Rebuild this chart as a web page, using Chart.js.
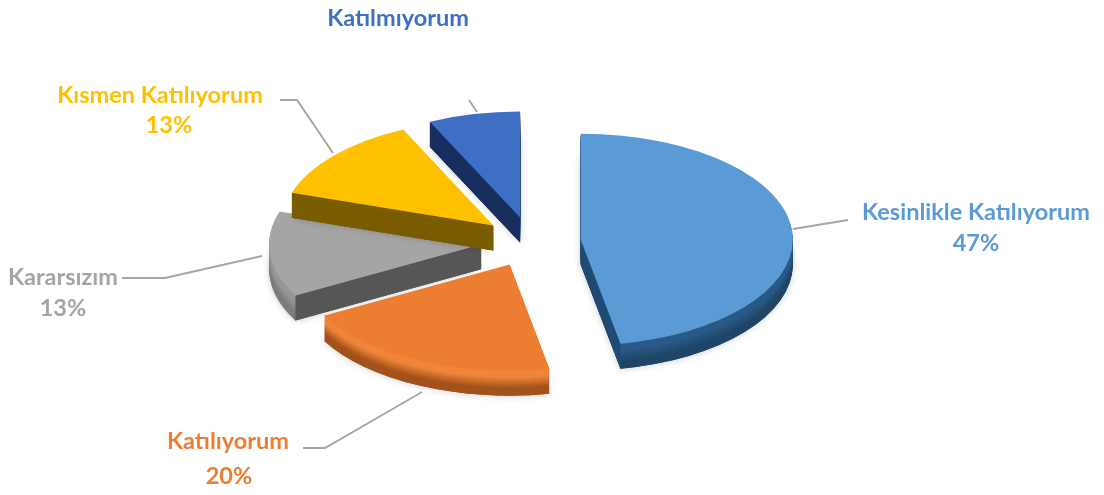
<!DOCTYPE html>
<html lang="tr">
<head>
<meta charset="utf-8">
<title>Katılım</title>
<script src="https://cdn.jsdelivr.net/npm/chart.js@4"></script>
<style>
  html, body { margin: 0; padding: 0; background: #fff; }
  canvas { display: block; }
</style>
</head>
<body>
<canvas id="pieChart" width="1104" height="495"></canvas>
<script>
// --- Chart data ---
const categories = ['Kesinlikle Katılıyorum', 'Katılıyorum', 'Kararsızım', 'Kısmen Katılıyorum', 'Katılmıyorum'];
const values = [47, 20, 13, 13, 7];
const percentShown = [true, true, true, true, false];

// --- Styles ---
const faceColors = ['#5b9bd5', '#ed7d31', '#a5a5a5', '#ffc000', '#3f6fc4'];
const wallColors = ['#1f4a75', '#a85a20', '#565656', '#7a5c00', '#172f5f'];
const rimLight = ['#2a5a88', '#f0853a', '#979797', '#a07800', '#172f5f'];
const rimDark = ['#1f4668', '#a2531c', '#7c7c7c', '#7a5c00', '#172f5f'];
const textColors = ['#5b9bd5', '#ed7d31', '#a5a5a5', '#ffc000', '#3f6fc4'];
const drawOrder = [4, 2, 3, 1, 0];

const TILT = 0.5;      // vertical squash of the pie
const DEPTH = 25;      // thickness of the slices, px on screen

// Label anchors and leader lines, in canvas px
const labelLayout = [
    { x: 976, y: 212, gap: 31, dx: 0, line: [[793, 229], [848, 220]] },
    { x: 228, y: 441, gap: 35, dx: 1, line: [[422, 392], [325, 448], [303, 448]] },
    { x: 63, y: 277, gap: 31, dx: 0, line: [[262, 256], [165, 278], [122, 278]] },
    { x: 160, y: 95, gap: 30, dx: 9, line: [[333, 153], [297, 100], [280, 100]] },
    { x: 398, y: 18, gap: 0, dx: 0, line: [[477, 112], [469, 100]] }
];

function mixColor(a, b, t) {
    const pa = parseInt(a.slice(1), 16);
    const pb = parseInt(b.slice(1), 16);
    const ch = shift => Math.round(((pa >> shift) & 255) * (1 - t) + ((pb >> shift) & 255) * t);
    return `rgb(${ch(16)},${ch(8)},${ch(0)})`;
}

// Draws one exploded slice from the geometry of its Chart.js arc element
function drawSlice(ctx, arc, index) {
    const { x, y, startAngle, endAngle, outerRadius } = arc.getProps(['x', 'y', 'startAngle', 'endAngle', 'outerRadius'], true);
    const mid = (startAngle + endAngle) / 2;
    const tipX = x + Math.cos(mid) * arc.options.offset;
    const tipY = y + Math.sin(mid) * arc.options.offset;

    const withTilt = (dy, paint) => {
        ctx.save();
        ctx.translate(0, y + dy);
        ctx.scale(1, TILT);
        ctx.translate(0, -y);
        ctx.beginPath();
        paint();
        ctx.restore();
    };
    const sector = () => {
        ctx.moveTo(tipX, tipY);
        ctx.arc(tipX, tipY, outerRadius, startAngle, endAngle);
        ctx.closePath();
    };

    // soft shadow under the slice
    ctx.save();
    ctx.shadowColor = 'rgba(0,0,0,0.22)';
    ctx.shadowBlur = 7;
    ctx.fillStyle = rimDark[index];
    withTilt(DEPTH, () => { sector(); ctx.fill(); });
    ctx.restore();

    // outer rim, dark at the bottom and lighter towards the face
    for (let d = DEPTH; d >= 1; d--) {
        const t = Math.max(0, Math.min(1, (d - 7) / (DEPTH - 14)));
        ctx.fillStyle = mixColor(rimLight[index], rimDark[index], t);
        withTilt(d, () => { sector(); ctx.fill(); });
    }

    // straight walls, only the ones that face the viewer
    const wall = angle => {
        const ex = tipX + Math.cos(angle) * outerRadius;
        const ey = tipY + Math.sin(angle) * outerRadius;
        const sy = v => y + (v - y) * TILT;
        ctx.beginPath();
        ctx.moveTo(tipX, sy(tipY));
        ctx.lineTo(ex, sy(ey));
        ctx.lineTo(ex, sy(ey) + DEPTH);
        ctx.lineTo(tipX, sy(tipY) + DEPTH);
        ctx.closePath();
        ctx.fillStyle = wallColors[index];
        ctx.fill();
    };
    if (-Math.cos(startAngle) > 0.01) wall(startAngle);
    if (Math.cos(endAngle) > 0.01) wall(endAngle);

    ctx.fillStyle = faceColors[index];
    withTilt(0, () => { sector(); ctx.fill(); });
}

// Replaces the default flat arcs with the tilted 3D ones
const tiltedPiePlugin = {
    id: 'tiltedPie',
    beforeDatasetsDraw(chart) {
        const ctx = chart.ctx;
        const arcs = chart.getDatasetMeta(0).data;
        ctx.save();
        ctx.filter = 'blur(0.7px)';
        drawOrder.forEach(i => drawSlice(ctx, arcs[i], i));
        ctx.restore();
        return false;
    }
};

const calloutPlugin = {
    id: 'callouts',
    afterDraw(chart) {
        const ctx = chart.ctx;
        ctx.save();
        ctx.filter = 'blur(0.4px)';
        categories.forEach((name, i) => {
            const layout = labelLayout[i];
            ctx.strokeStyle = '#a6a6a6';
            ctx.lineWidth = 2;
            ctx.beginPath();
            layout.line.forEach(([px, py], k) => (k ? ctx.lineTo(px, py) : ctx.moveTo(px, py)));
            ctx.stroke();

            ctx.font = 'bold 23.5px Lato';
            ctx.textAlign = 'center';
            ctx.textBaseline = 'middle';
            ctx.fillStyle = textColors[i];
            ctx.fillText(name, layout.x, layout.y);
            if (percentShown[i]) {
                ctx.fillText(`${values[i]}%`, layout.x + layout.dx, layout.y + layout.gap);
            }
        });
        ctx.restore();
    }
};

new Chart(document.getElementById('pieChart').getContext('2d'), {
    type: 'pie',
    data: {
        labels: categories,
        datasets: [{
            data: values,
            backgroundColor: faceColors,
            borderWidth: 0,
            offset: 50
        }]
    },
    options: {
        responsive: false,
        animation: false,
        radius: 212,
        layout: { padding: { right: 42, bottom: 11 } },
        plugins: {
            legend: { display: false },
            tooltip: { enabled: false }
        }
    },
    plugins: [tiltedPiePlugin, calloutPlugin]
});
</script>
</body>
</html>
